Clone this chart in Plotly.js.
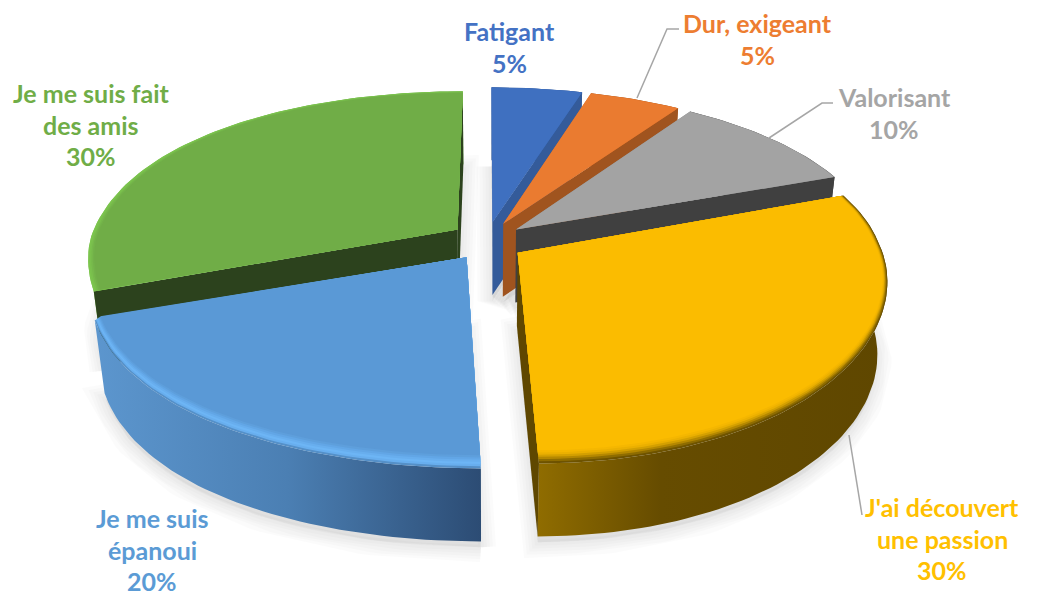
<!DOCTYPE html>
<html>
<head>
<meta charset="utf-8">
<script src="https://cdn.plot.ly/plotly-3.0.1.min.js"></script>
<style>html,body{margin:0;padding:0;background:#fff}#chart{width:1038px;height:599px}</style>
</head>
<body>
<div id="chart"></div>
<script>
// --- data ---
const categories = ["Fatigant", "Dur, exigeant", "Valorisant", "J'ai découvert une passion", "Je me suis épanoui", "Je me suis fait des amis"];
const values = [5, 5, 10, 30, 20, 30];
const labelLines = [["Fatigant"], ["Dur, exigeant"], ["Valorisant"], ["J'ai découvert", "une passion"], ["Je me suis", "épanoui"], ["Je me suis fait", "des amis"]];

// --- styles ---
const labelColors = ["#4472C4", "#ED7D31", "#A5A5A5", "#FFC000", "#5B9BD5", "#70AD47"];
const topColors = ["#3F70C0", "#EA7B30", "#A3A3A3", "#FBBC00", "#5A99D6", "#70AD47"];
const radialWall = ["#345B9A", "#A0541F", "#404040", "#5F4700", "#2E4F78", "#2C421D"];
const wallStops = [
  [[0, "#345B9A"], [1, "#345B9A"]], [[0, "#A0541F"], [1, "#A0541F"]], [[0, "#404040"], [1, "#404040"]],
  [[0, "#8F6C00"], [0.35, "#664C00"], [1, "#5F4700"]], [[0, "#5C96CE"], [0.5, "#4B7FB3"], [1, "#2C4C74"]], [[0, "#7DC44E"], [1, "#5E9A38"]]
];
const rimColors = [
  ["#3B68B2"], ["#D9702A"], ["#8E8E8E"],
  ["#6E5300", "#8E6C00", "#B58800", "#D4A000", "#EBB000", "#F5B700"],
  ["#5590C8", "#68AEEE", "#6DB5F5", "#68AEEE", "#62A6E6", "#5E9FDC"],
  ["#7CC54E", "#7AC04D", "#76B84B", "#72B149"]
];
const rimRadial = [0.002, 0.002, 0.002, 0.002, 0.002, 0.004];
const rimFront = [0.002, 0.002, 0.002, 0.008, 0.008, 0.004];
const drawOrder = [0, 1, 2, 5, 3, 4];
const labelAnchors = [[509, 31], [757, 23], [894, 97], [942, 507], [152, 518], [91, 93]];

// --- projection of the pie plane onto the page ---
const pie = {
  x0: 487, y0: 241, Ry: 199, skew: 19, explode: 0.1, H: 73, shrink: 0.025, soft: 0.2,
  left: {R: 368, kFront: 0.17, kBack: 0.22}, right: {R: 362, kFront: 0.06, kBack: 0.24},
  kyFront: 0.05, kyBack: 0.385
};
function project(X, Y, h) {
  const p = X < 0 ? pie.left : pie.right;
  const a = (p.kFront + p.kBack) / 2, b = (p.kFront - p.kBack) / 2;
  const wx = 1 - (a * Y + b * (Math.hypot(Y, pie.soft) - pie.soft));
  const wy = 1 - (Y < 0 ? pie.kyBack : pie.kyFront) * Y;
  const s = 1 - pie.shrink * (h || 0) / pie.H;
  return [pie.x0 + (p.R * X / wx + pie.skew * Math.max(0, Y)) * s, pie.y0 + pie.Ry * Y / wy + (h || 0)];
}
function slicePoints(i, r, front) {
  const total = values.reduce((a, b) => a + b, 0);
  const before = values.slice(0, i).reduce((a, b) => a + b, 0);
  const a0 = before / total * 2 * Math.PI, a1 = (before + values[i]) / total * 2 * Math.PI, m = (a0 + a1) / 2;
  const ox = pie.explode * Math.sin(m), oy = -pie.explode * Math.cos(m);
  const arc = [], n = Math.max(12, Math.round((a1 - a0) * 40));
  for (let j = 0; j <= n; j++) {
    const a = a0 + (a1 - a0) * j / n, fy = -Math.cos(a);
    arc.push([ox + r * Math.sin(a), oy + r * fy * (fy > 0 ? 1 - (front || 0) : 1)]);
  }
  return {ox, oy, arc};
}
const pp = (pts, h) => pts.map(p => project(p[0], p[1], h));
function poly(pts, opts) {
  return Object.assign({
    type: "scatter", mode: "lines", x: pts.map(p => p[0]).concat(pts[0][0]), y: pts.map(p => p[1]).concat(pts[0][1]),
    fill: "toself", line: {width: 0}, hoverinfo: "skip", showlegend: false
  }, opts);
}

const traces = [];
// soft shadow under the slices
for (const i of drawOrder) {
  const s = slicePoints(i, 1), c = [s.ox, s.oy];
  const outline = pp(s.arc, pie.H + 6).concat(pp([c], pie.H + 6));
  [30, 24, 18, 12, 6].forEach(wd => traces.push(poly(outline, {
    fillcolor: "rgba(0,0,0,0.012)", line: {width: wd, color: "rgba(0,0,0,0.016)"}
  })));
}
for (const i of drawOrder) {
  const s = slicePoints(i, 1), c = [s.ox, s.oy];
  const top = pp(s.arc), bottom = pp(s.arc, pie.H), ct = project(c[0], c[1]), cb = project(c[0], c[1], pie.H);
  const xs = top.map(p => p[0]);
  // outer wall
  traces.push(poly(top.concat(bottom.slice().reverse()), {
    fillcolor: wallStops[i][wallStops[i].length - 1][1],
    fillgradient: {type: "horizontal", start: Math.min(...xs), stop: Math.max(...xs), colorscale: wallStops[i]}
  }));
  // radial walls when they face the viewer
  const mid = top[Math.floor(top.length / 2)];
  [[top[0], bottom[0]], [top[top.length - 1], bottom[bottom.length - 1]]].forEach(e => {
    const dx = e[0][0] - ct[0], dy = e[0][1] - ct[1];
    const side = (px, py) => dx * (py - ct[1]) - dy * (px - ct[0]);
    if (side(mid[0], mid[1]) * side(ct[0], ct[1] + pie.H) < 0) {
      traces.push(poly([ct, e[0], e[1], cb], {fillcolor: radialWall[i]}));
    }
  });
  // top face with its bevelled rim, outermost ring first
  rimColors[i].forEach((col, j) => {
    traces.push(poly(pp(slicePoints(i, 1 - j * rimRadial[i], j * rimFront[i]).arc).concat([ct]), {fillcolor: col}));
  });
  const nr = rimColors[i].length;
  traces.push(poly(pp(slicePoints(i, 1 - nr * rimRadial[i], nr * rimFront[i]).arc).concat([ct]), {fillcolor: topColors[i]}));
}

// --- labels ---
const total = values.reduce((a, b) => a + b, 0);
const lineStep = 31.5;
const annotations = [];
categories.forEach((cat, i) => {
  const lines = labelLines[i].concat(Math.round(values[i] / total * 100) + "%");
  lines.forEach((t, j) => annotations.push({
    x: labelAnchors[i][0], y: labelAnchors[i][1] + j * lineStep, xref: "x", yref: "y", text: t, showarrow: false,
    xanchor: "center", yanchor: "middle", font: {family: "Lato, 'Open Sans', sans-serif", size: 25, weight: 700, color: labelColors[i]}
  }));
});

// --- leader lines ---
const leaders = [
  "M679,29 L667,29 L637,98",
  "M833,103 L822,103 L769,138",
  "M862,515 L849,435"
];
const shapes = leaders.map(d => ({type: "path", path: d, xref: "x", yref: "y", line: {color: "#A6A6A6", width: 1.5}}));

Plotly.newPlot("chart", traces, {
  width: 1038, height: 599, margin: {l: 0, r: 0, t: 0, b: 0}, paper_bgcolor: "#fff", plot_bgcolor: "#fff",
  xaxis: {range: [0, 1038], visible: false, fixedrange: true},
  yaxis: {range: [599, 0], visible: false, fixedrange: true},
  showlegend: false, annotations, shapes
}, {displayModeBar: false, staticPlot: true});
</script>
</body>
</html>
